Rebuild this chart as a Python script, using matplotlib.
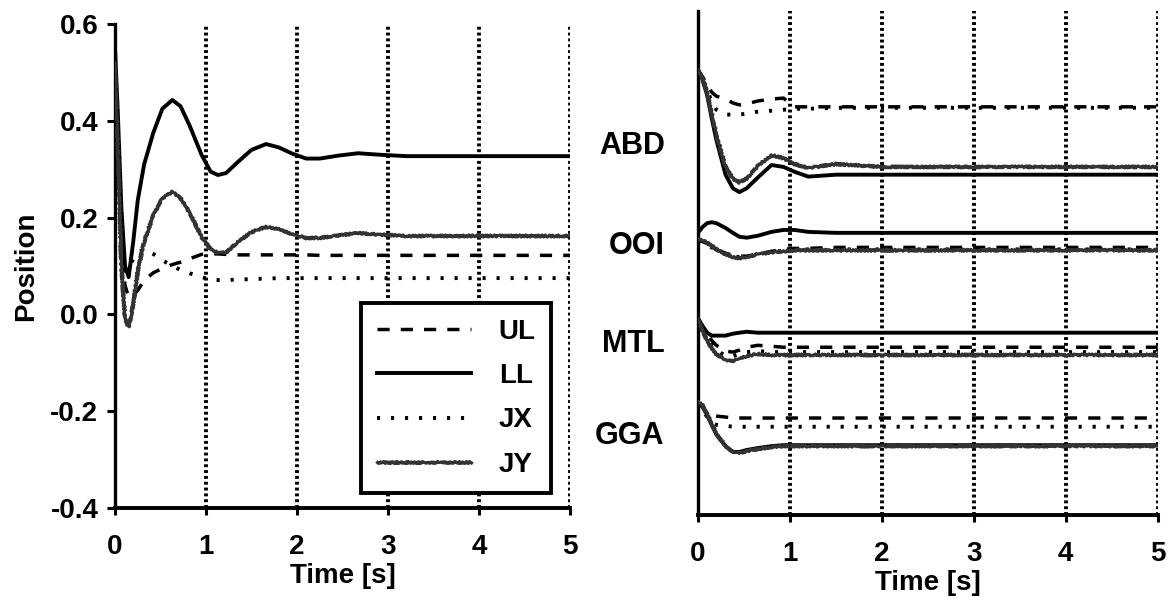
import matplotlib
matplotlib.use("Agg")
import matplotlib.pyplot as plt

plt.rcParams['font.family'] = ['Liberation Sans', 'DejaVu Sans']
plt.rcParams['font.weight'] = 'bold'

# left panel: positions vs time
t_left = [0, 0.03, 0.07, 0.11, 0.15, 0.2, 0.25, 0.32, 0.42, 0.52, 0.63, 0.72, 0.82, 0.95,
          1.05, 1.13, 1.22, 1.35, 1.5, 1.66, 1.8, 1.95, 2.1, 2.25, 2.45, 2.67, 2.9, 3.2, 5.0]
ul = [0.50, 0.35, 0.15, 0.06, 0.035, 0.04, 0.05, 0.07, 0.086, 0.095, 0.103, 0.108, 0.115, 0.124,
      0.125, 0.125, 0.124, 0.123, 0.123, 0.123, 0.123, 0.123, 0.123, 0.122, 0.122, 0.122, 0.122, 0.122, 0.122]
ll = [0.55, 0.42, 0.22, 0.10, 0.077, 0.15, 0.236, 0.31, 0.375, 0.425, 0.443, 0.43, 0.39, 0.33,
      0.295, 0.288, 0.292, 0.315, 0.34, 0.352, 0.345, 0.332, 0.322, 0.322, 0.328, 0.333, 0.330, 0.327, 0.327]
jx = [0.50, 0.35, 0.16, 0.09, 0.095, 0.115, 0.128, 0.134, 0.125, 0.112, 0.10, 0.092, 0.085, 0.077,
      0.072, 0.071, 0.071, 0.072, 0.073, 0.074, 0.075, 0.075, 0.075, 0.075, 0.075, 0.075, 0.075, 0.075, 0.075]
jy = [0.52, 0.35, 0.10, -0.01, -0.026, 0.02, 0.09, 0.15, 0.205, 0.24, 0.253, 0.24, 0.21, 0.16,
      0.135, 0.127, 0.128, 0.15, 0.17, 0.181, 0.176, 0.165, 0.158, 0.158, 0.163, 0.168, 0.165, 0.162, 0.162]

# right panel: traces per muscle group, relative to the group offset
t_right = [0, 0.05, 0.1, 0.15, 0.2, 0.3, 0.38, 0.45, 0.53, 0.65, 0.8, 0.93, 1.05, 1.2, 1.5, 2.0, 5.0]
groups = ['ABD', 'OOI', 'MTL', 'GGA']
offsets = [3.84, 2.81, 1.80, 0.85]
abd = {
    'UL': [0.75, 0.68, 0.60, 0.52, 0.48, 0.45, 0.41, 0.39, 0.40, 0.43, 0.45, 0.46, 0.37, 0.37, 0.37, 0.37, 0.37],
    'LL': [0.75, 0.65, 0.49, 0.25, 0.03, -0.33, -0.47, -0.51, -0.47, -0.36, -0.23, -0.25, -0.30, -0.35, -0.33, -0.33, -0.33],
    'JX': [0.75, 0.66, 0.55, 0.42, 0.34, 0.29, 0.29, 0.29, 0.30, 0.32, 0.33, 0.34, 0.35, 0.35, 0.36, 0.36, 0.36],
    'JY': [0.75, 0.66, 0.52, 0.30, 0.08, -0.25, -0.37, -0.41, -0.37, -0.24, -0.13, -0.16, -0.22, -0.26, -0.22, -0.25, -0.25],
}
ooi = {
    'UL': [0.02, 0.01, -0.01, -0.04, -0.07, -0.11, -0.13, -0.14, -0.14, -0.12, -0.09, -0.07, -0.06, -0.06, -0.05, -0.05, -0.05],
    'LL': [0.10, 0.16, 0.20, 0.21, 0.20, 0.15, 0.10, 0.06, 0.05, 0.07, 0.11, 0.13, 0.13, 0.11, 0.10, 0.10, 0.10],
    'JX': [0.02, 0.0, -0.02, -0.05, -0.08, -0.12, -0.14, -0.15, -0.15, -0.12, -0.10, -0.08, -0.07, -0.07, -0.07, -0.07, -0.07],
    'JY': [0.04, 0.02, 0.0, -0.03, -0.07, -0.12, -0.15, -0.16, -0.15, -0.12, -0.10, -0.09, -0.08, -0.08, -0.08, -0.08, -0.08],
}
mtl = {
    'UL': [0.23, 0.14, 0.06, 0.0, -0.05, -0.11, -0.12, -0.10, -0.07, -0.05, -0.06, -0.07, -0.07, -0.07, -0.07, -0.07, -0.07],
    'LL': [0.23, 0.15, 0.08, 0.05, 0.05, 0.05, 0.07, 0.08, 0.09, 0.08, 0.08, 0.08, 0.08, 0.08, 0.08, 0.08, 0.08],
    'JX': [0.23, 0.12, 0.03, -0.04, -0.10, -0.16, -0.16, -0.14, -0.12, -0.11, -0.12, -0.12, -0.12, -0.12, -0.12, -0.12, -0.12],
    'JY': [0.23, 0.10, 0.0, -0.08, -0.14, -0.20, -0.21, -0.19, -0.16, -0.14, -0.15, -0.15, -0.15, -0.15, -0.15, -0.15, -0.15],
}
gga = {
    'UL': [0.31, 0.26, 0.21, 0.18, 0.17, 0.16, 0.15, 0.15, 0.15, 0.15, 0.15, 0.15, 0.15, 0.15, 0.15, 0.15, 0.15],
    'LL': [0.31, 0.27, 0.18, 0.08, -0.02, -0.14, -0.20, -0.20, -0.18, -0.16, -0.14, -0.13, -0.13, -0.13, -0.13, -0.13, -0.13],
    'JX': [0.31, 0.24, 0.16, 0.10, 0.08, 0.07, 0.06, 0.06, 0.06, 0.06, 0.06, 0.06, 0.06, 0.06, 0.06, 0.06, 0.06],
    'JY': [0.32, 0.28, 0.19, 0.09, -0.01, -0.14, -0.20, -0.21, -0.19, -0.17, -0.15, -0.14, -0.14, -0.14, -0.14, -0.14, -0.14],
}
traces = [abd, ooi, mtl, gga]

names = ['UL', 'LL', 'JX', 'JY']
styles = {
    'UL': dict(color='black', lw=2.5, ls=(0, (3.5, 3.2))),
    'LL': dict(color='black', lw=2.8, ls='-'),
    'JX': dict(color='black', lw=2.8, ls=(0, (0.8, 2.8))),
    'JY': dict(color='0.2', lw=2.3, ls='-'),
}


def style_axes(ax):
    ax.set_xlim(0, 5)
    ax.set_xticks(range(6))
    for s in ['top', 'right']:
        ax.spines[s].set_visible(False)
    ax.spines['left'].set_linewidth(2.4)
    ax.spines['bottom'].set_linewidth(2.8)
    for x in range(6):
        ax.axvline(x, color='black', lw=2.8, ls=(0, (0.75, 0.75)), zorder=1)
    ax.tick_params(axis='x', direction='out', length=5, width=2.2, pad=14, labelsize=20)
    ax.set_xlabel('Time [s]', fontsize=20, fontweight='bold', labelpad=2)


fig = plt.figure(figsize=(11.76, 6.03), dpi=100)
ax1 = fig.add_axes([0.0978, 0.1575, 0.387, 0.8027])
ax2 = fig.add_axes([0.5935, 0.146, 0.391, 0.836])

# left panel
series = {'UL': ul, 'LL': ll, 'JX': jx, 'JY': jy}
for n in names:
    line, = ax1.plot(t_left, series[n], label=n, zorder=3, **styles[n])
    if n == 'JY':
        line.set_sketch_params(1.0, 3, 2)
style_axes(ax1)
ax1.set_ylim(-0.4, 0.6)
ax1.set_yticks([-0.4, -0.2, 0.0, 0.2, 0.4, 0.6])
ax1.set_yticklabels(['-0.4', '-0.2', '0.0', '0.2', '0.4', '0.6'])
ax1.tick_params(axis='y', direction='out', length=6, width=2.2, pad=6, labelsize=20)
ax1.set_ylabel('Position', fontsize=20, fontweight='bold', labelpad=8)
leg = ax1.legend(loc='lower right', bbox_to_anchor=(0.958, 0.031), borderaxespad=0,
                 fontsize=20, handlelength=3.4, handletextpad=1.0, labelspacing=0.66,
                 fancybox=False, edgecolor='black', framealpha=1, borderpad=0.55)
leg.get_frame().set_linewidth(2.8)
for h in leg.get_lines():
    if h.get_label() == 'JY':
        h.set_sketch_params(1.0, 3, 2)

# right panel
for off, tr in zip(offsets, traces):
    for n in names:
        line, = ax2.plot(t_right, [off + v for v in tr[n]], zorder=3, **styles[n])
        if n == 'JY':
            line.set_sketch_params(1.0, 3, 2)
style_axes(ax2)
ax2.set_ylim(0, 5.2)
ax2.set_yticks(offsets)
ax2.set_yticklabels(groups)
ax2.tick_params(axis='y', length=0, pad=24, labelsize=22)

fig.savefig('out.png', dpi=100)
